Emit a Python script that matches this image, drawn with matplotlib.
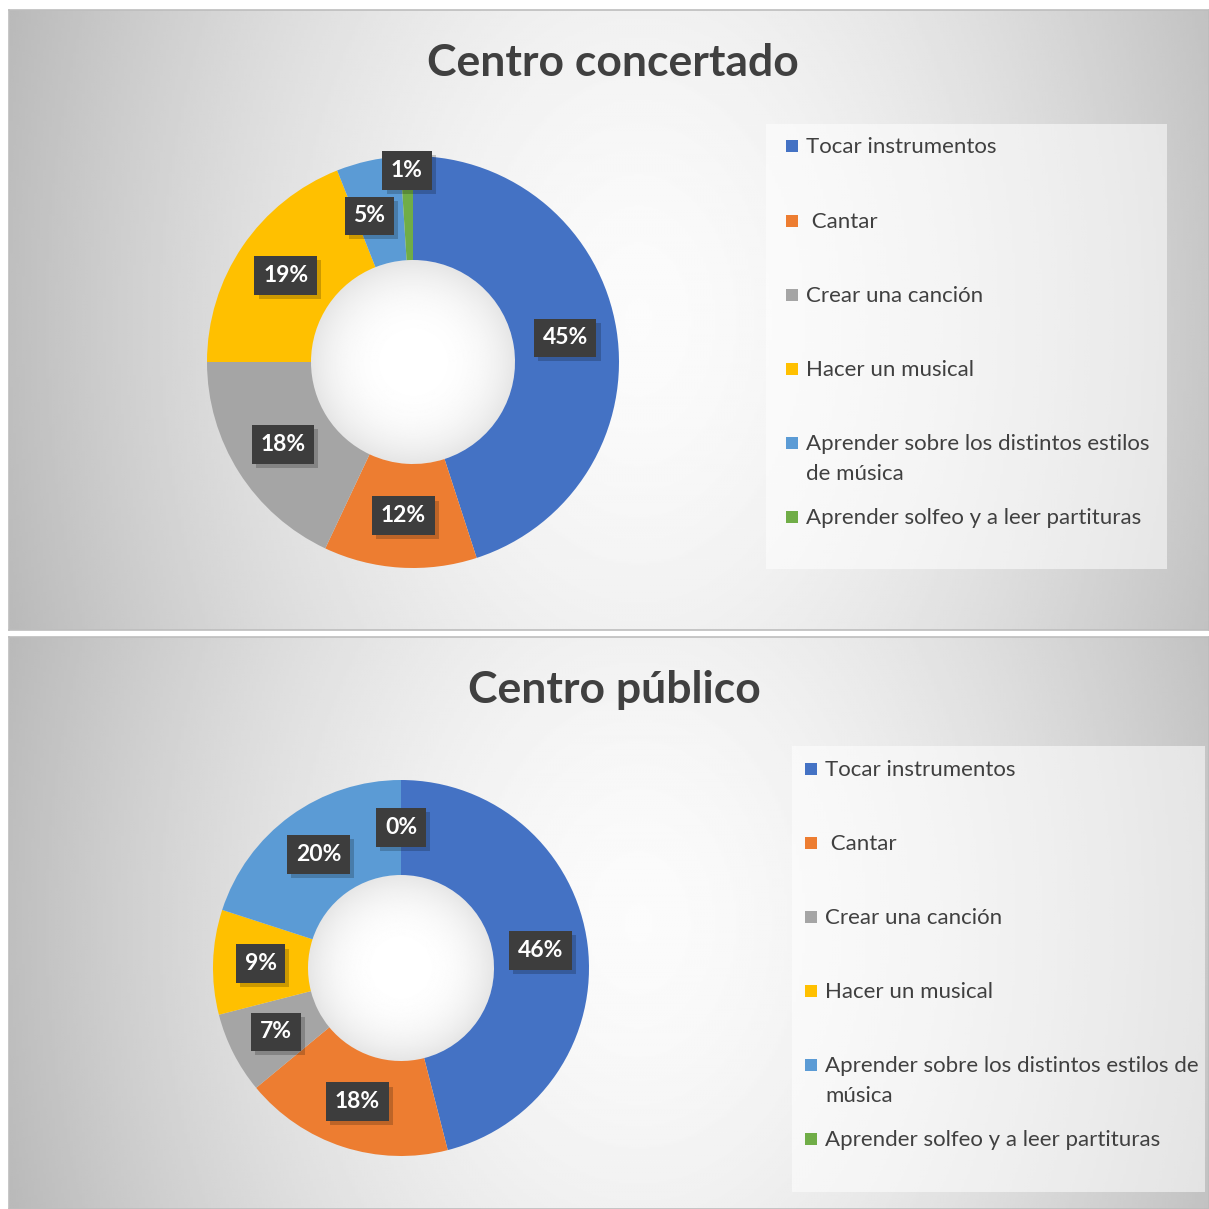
import numpy as np
import matplotlib
matplotlib.use("Agg")
import matplotlib.pyplot as plt
from matplotlib.patches import Rectangle, Circle
import matplotlib.patheffects as pe

plt.rcParams['font.family'] = ['Lato', 'DejaVu Sans']

# Data
categories = ["Tocar instrumentos", " Cantar", "Crear una canción", "Hacer un musical",
              "Aprender sobre los distintos estilos de música", "Aprender solfeo y a leer partituras"]
legend_1 = ["Tocar instrumentos", " Cantar", "Crear una canción", "Hacer un musical",
            "Aprender sobre los distintos estilos\nde música", "Aprender solfeo y a leer partituras"]
legend_2 = ["Tocar instrumentos", " Cantar", "Crear una canción", "Hacer un musical",
            "Aprender sobre los distintos estilos de\nmúsica", "Aprender solfeo y a leer partituras"]
concertado = [45, 12, 18, 19, 5, 1]
publico = [46, 18, 7, 9, 20, 0]
colors = ["#4472C4", "#ED7D31", "#A5A5A5", "#FFC000", "#5B9BD5", "#70AD47"]

W = 1209
fig = plt.figure(figsize=(W / 100, W / 100), dpi=100)
fig.patch.set_facecolor("white")


def fbox(x0, y0, x1, y1):
    # pixel box (top-left origin) -> figure coords
    return [x0 / W, 1 - y1 / W, (x1 - x0) / W, (y1 - y0) / W]


def panel_bg(x0, y0, x1, y1):
    ax = fig.add_axes(fbox(x0, y0, x1, y1))
    w, h = x1 - x0, y1 - y0
    xx, yy = np.meshgrid(np.linspace(-1, 1, 400), np.linspace(-1, 1, 300))
    d = np.sqrt((xx - 0.05) ** 2 + (0.35 * yy) ** 2)
    d = np.clip(d, 0, 1.1)
    val = 0.985 - 0.22 * d ** 1.6
    ax.imshow(val, cmap="gray", vmin=0, vmax=1, extent=[0, w, 0, h], aspect="auto")
    ax.set_xticks([])
    ax.set_yticks([])
    for s in ax.spines.values():
        s.set_color("#BDBDBD")
        s.set_linewidth(1.2)
    return ax


def donut(vals, cx, cy, r_out, r_in, nudges):
    ax = fig.add_axes(fbox(cx - r_out, cy - r_out, cx + r_out, cy + r_out))
    wedges, _ = ax.pie(vals, colors=colors, startangle=90, counterclock=False,
                       radius=1, wedgeprops=dict(width=(r_out - r_in) / r_out))
    ri = r_in / r_out
    # shaded hole
    g = np.linspace(-1, 1, 200)
    gx, gy = np.meshgrid(g, g)
    hole = 1.0 - 0.10 * np.clip(np.hypot(gx, gy), 0, 1) ** 3
    im = ax.imshow(hole, cmap="gray", vmin=0, vmax=1, extent=[-ri, ri, -ri, ri],
                   zorder=0.5)
    im.set_clip_path(Circle((0, 0), ri, transform=ax.transData))
    ax.set_xlim(-1, 1)
    ax.set_ylim(-1, 1)
    ax.axis("off")
    rmid = (1 + ri) / 2
    for i, (wdg, v) in enumerate(zip(wedges, vals)):
        ang = np.deg2rad((wdg.theta1 + wdg.theta2) / 2)
        r, da = nudges.get(i, (rmid, 0))
        x = r * np.cos(ang + np.deg2rad(da))
        y = r * np.sin(ang + np.deg2rad(da))
        t = ax.text(x, y, f"{v}%", ha="center", va="center", color="white",
                    fontsize=16.5, fontweight="bold",
                    bbox=dict(boxstyle="square,pad=0.38", facecolor="#3d3d3d",
                              edgecolor="none"))
        t.get_bbox_patch().set_path_effects(
            [pe.SimplePatchShadow(offset=(3, -3), shadow_rgbFace="#000000", alpha=0.2),
             pe.Normal()])
    return ax


def legend_box(x0, y0, x1, y1, labels, rows, mx):
    ax = fig.add_axes(fbox(x0, y0, x1, y1))
    ax.set_xlim(x0, x1)
    ax.set_ylim(y1, y0)
    ax.axis("off")
    ax.add_patch(Rectangle((x0, y0), x1 - x0, y1 - y0, facecolor="white",
                           alpha=0.55, edgecolor="none"))
    for lab, c, yr in zip(labels, colors, rows):
        ax.add_patch(Rectangle((mx, yr - 6), 12, 12, facecolor=c, edgecolor="none"))
        for k, line in enumerate(lab.split("\n")):
            ax.text(mx + 20, yr + 7 + 30 * k, line, ha="left", va="baseline",
                    fontsize=16, color="#404040")


# Panel 1
panel_bg(9, 10, 1209, 630)
fig.text(613 / W, 1 - 63 / W, "Centro concertado", ha="center", va="center",
         fontsize=32, fontweight="bold", color="#404040")
donut(concertado, 413, 362, 206, 102, {4: (0.74, 4), 5: (0.93, 0)})
legend_box(766, 124, 1167, 569, legend_1, [146, 221, 295, 369, 443, 517], 786)

# Panel 2
panel_bg(9, 637, 1209, 1209)
fig.text(614 / W, 1 - 690 / W, "Centro público", ha="center", va="center",
         fontsize=32, fontweight="bold", color="#404040")
donut(publico, 401, 968, 188, 93, {})
legend_box(792, 746, 1205, 1192, legend_2, [769, 843, 917, 991, 1065, 1139], 805)

fig.savefig("out.png", dpi=100)
